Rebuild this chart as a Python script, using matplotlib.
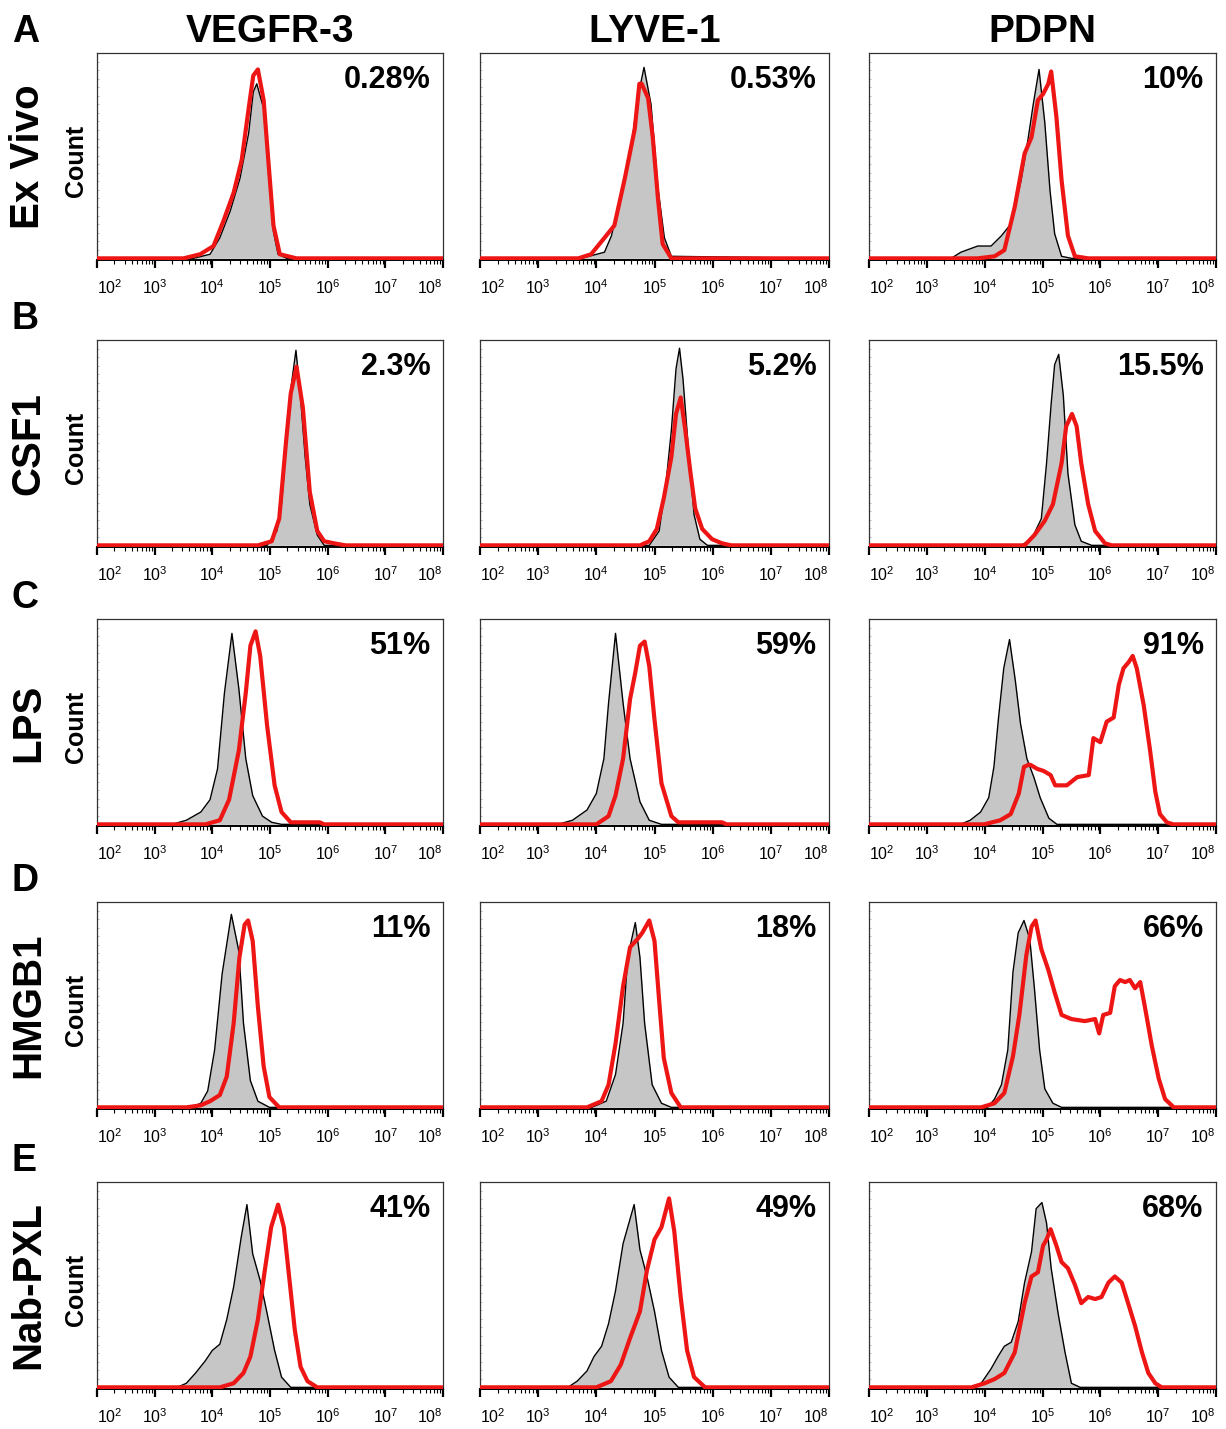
import numpy as np
import matplotlib
matplotlib.use("Agg")
import matplotlib.pyplot as plt
from matplotlib.ticker import LogLocator, NullFormatter, FixedLocator

plt.rcParams['font.family'] = ['Liberation Sans', 'DejaVu Sans']
plt.rcParams['mathtext.fontset'] = 'custom'
plt.rcParams['mathtext.rm'] = 'Liberation Sans'
plt.rcParams['mathtext.it'] = 'Liberation Sans'

markers = ['VEGFR-3', 'LYVE-1', 'PDPN']
conditions = ['Ex Vivo', 'CSF1', 'LPS', 'HMGB1', 'Nab-PXL']
letters = ['A', 'B', 'C', 'D', 'E']
percents = [['0.28%', '0.53%', '10%'],
            ['2.3%', '5.2%', '15.5%'],
            ['51%', '59%', '91%'],
            ['11%', '18%', '66%'],
            ['41%', '49%', '68%']]
decades = [2, 3, 4, 5, 6, 7, 8]

# histograms: log10(intensity), count as fraction of panel height
# gray = isotype control, red = stained
exvivo_vegfr3_gray = ([3.67, 3.96, 4.13, 4.31, 4.48, 4.63, 4.71, 4.77, 4.89, 4.97, 5.06, 5.14, 5.29],
                      [0, 0.02, 0.10, 0.23, 0.39, 0.61, 0.81, 0.85, 0.73, 0.45, 0.13, 0.02, 0])
exvivo_vegfr3_red = ([3.50, 3.79, 4.02, 4.19, 4.37, 4.51, 4.63, 4.71, 4.79, 4.89, 4.97, 5.06, 5.17, 5.46],
                     [0, 0.02, 0.06, 0.18, 0.32, 0.48, 0.73, 0.89, 0.92, 0.77, 0.48, 0.16, 0.02, 0])
exvivo_lyve1_gray = ([3.74, 4.14, 4.26, 4.49, 4.60, 4.71, 4.82, 4.94, 5.06, 5.17, 5.29],
                     [0, 0.03, 0.11, 0.39, 0.54, 0.78, 0.93, 0.75, 0.34, 0.10, 0.01])
exvivo_lyve1_red = ([3.69, 3.91, 4.14, 4.31, 4.49, 4.66, 4.74, 4.78, 4.89, 4.97, 5.06, 5.14, 5.29],
                    [0, 0.02, 0.10, 0.16, 0.39, 0.63, 0.85, 0.85, 0.78, 0.59, 0.29, 0.07, 0])
exvivo_pdpn_gray = ([3.42, 3.59, 3.88, 4.11, 4.29, 4.46, 4.63, 4.75, 4.84, 4.94, 5.04, 5.13, 5.21, 5.33, 5.50],
                    [0, 0.03, 0.06, 0.06, 0.11, 0.17, 0.38, 0.58, 0.75, 0.92, 0.66, 0.33, 0.12, 0.01, 0])
exvivo_pdpn_red = ([3.88, 4.17, 4.34, 4.52, 4.69, 4.81, 4.92, 5.01, 5.10, 5.15, 5.24, 5.33, 5.44, 5.56, 5.79],
                   [0, 0.01, 0.04, 0.25, 0.51, 0.59, 0.77, 0.80, 0.85, 0.91, 0.69, 0.38, 0.11, 0.01, 0])

csf1_vegfr3_gray = ([4.95, 5.12, 5.20, 5.28, 5.36, 5.45, 5.53, 5.61, 5.69, 5.82, 5.94],
                    [0, 0.07, 0.20, 0.48, 0.76, 0.95, 0.72, 0.43, 0.20, 0.05, 0])
csf1_vegfr3_red = ([4.79, 5.03, 5.16, 5.28, 5.36, 5.46, 5.57, 5.69, 5.82, 5.94, 6.11, 6.31],
                   [0, 0.02, 0.13, 0.51, 0.74, 0.87, 0.67, 0.26, 0.07, 0.02, 0.01, 0])
csf1_lyve1_gray = ([4.91, 5.08, 5.20, 5.29, 5.37, 5.43, 5.49, 5.58, 5.68, 5.78, 5.91],
                   [0, 0.07, 0.31, 0.56, 0.86, 0.96, 0.81, 0.48, 0.15, 0.03, 0])
csf1_lyve1_red = ([4.75, 4.91, 5.04, 5.16, 5.29, 5.37, 5.45, 5.53, 5.62, 5.70, 5.82, 5.99, 6.16, 6.32],
                  [0, 0.02, 0.08, 0.23, 0.43, 0.64, 0.72, 0.56, 0.35, 0.18, 0.08, 0.03, 0.01, 0])
csf1_pdpn_gray = ([4.63, 4.81, 4.98, 5.07, 5.15, 5.21, 5.28, 5.36, 5.44, 5.56, 5.67, 5.85],
                  [0, 0.03, 0.13, 0.40, 0.69, 0.88, 0.93, 0.73, 0.35, 0.10, 0.02, 0])
csf1_pdpn_red = ([4.69, 4.86, 5.04, 5.18, 5.33, 5.41, 5.51, 5.59, 5.67, 5.79, 5.91, 6.08, 6.20],
                 [0, 0.05, 0.12, 0.20, 0.40, 0.58, 0.64, 0.58, 0.40, 0.20, 0.07, 0.01, 0])

lps_vegfr3_gray = ([3.30, 3.55, 3.80, 3.96, 4.09, 4.21, 4.34, 4.46, 4.58, 4.70, 4.87, 5.03, 5.20],
                   [0, 0.02, 0.06, 0.12, 0.27, 0.64, 0.93, 0.66, 0.32, 0.14, 0.04, 0.01, 0])
lps_vegfr3_red = ([3.88, 4.13, 4.29, 4.46, 4.58, 4.66, 4.75, 4.83, 4.95, 5.08, 5.20, 5.36, 5.86, 5.94],
                  [0, 0.02, 0.12, 0.36, 0.64, 0.87, 0.94, 0.82, 0.48, 0.19, 0.06, 0.01, 0.01, 0])
lps_lyve1_gray = ([3.34, 3.59, 3.84, 4.00, 4.13, 4.21, 4.33, 4.46, 4.58, 4.75, 4.91, 5.12],
                  [0, 0.02, 0.07, 0.15, 0.32, 0.59, 0.93, 0.59, 0.32, 0.11, 0.02, 0])
lps_lyve1_red = ([4.00, 4.21, 4.33, 4.46, 4.58, 4.67, 4.75, 4.83, 4.91, 5.00, 5.12, 5.29, 5.41, 6.16, 6.24],
                 [0, 0.04, 0.14, 0.32, 0.61, 0.74, 0.87, 0.89, 0.77, 0.51, 0.20, 0.04, 0.01, 0.01, 0])
lps_pdpn_gray = ([3.58, 3.75, 3.93, 4.07, 4.16, 4.24, 4.33, 4.43, 4.53, 4.62, 4.73, 4.85, 4.96, 5.11, 5.25],
                 [0, 0.02, 0.06, 0.13, 0.28, 0.52, 0.76, 0.90, 0.70, 0.49, 0.32, 0.23, 0.13, 0.03, 0])
lps_pdpn_red = ([3.99, 4.27, 4.45, 4.59, 4.68, 4.76, 4.79, 4.91, 5.02, 5.14, 5.22, 5.42, 5.60, 5.80, 5.88,
                 6.00, 6.11, 6.23, 6.32, 6.40, 6.49, 6.56, 6.63, 6.75, 6.86, 6.95, 7.03, 7.15, 7.26],
                [0, 0.02, 0.05, 0.15, 0.28, 0.29, 0.29, 0.27, 0.26, 0.24, 0.19, 0.19, 0.23, 0.24, 0.42,
                 0.40, 0.50, 0.52, 0.68, 0.76, 0.79, 0.82, 0.76, 0.58, 0.36, 0.16, 0.05, 0.01, 0])

hmgb1_vegfr3_gray = ([3.63, 3.80, 3.92, 4.04, 4.17, 4.33, 4.46, 4.54, 4.66, 4.79, 4.99],
                     [0, 0.02, 0.08, 0.28, 0.65, 0.94, 0.76, 0.41, 0.13, 0.03, 0])
hmgb1_vegfr3_red = ([3.55, 3.80, 3.96, 4.13, 4.25, 4.37, 4.47, 4.56, 4.62, 4.70, 4.79, 4.89, 4.99, 5.16],
                    [0, 0.01, 0.03, 0.06, 0.15, 0.41, 0.73, 0.89, 0.91, 0.81, 0.49, 0.20, 0.05, 0])
hmgb1_lyve1_gray = ([3.92, 4.17, 4.33, 4.46, 4.54, 4.67, 4.75, 4.83, 4.96, 5.12, 5.29],
                    [0, 0.03, 0.16, 0.41, 0.73, 0.90, 0.73, 0.41, 0.11, 0.02, 0])
hmgb1_lyve1_red = ([3.84, 4.09, 4.21, 4.33, 4.46, 4.58, 4.71, 4.79, 4.91, 5.00, 5.08, 5.16, 5.29, 5.45],
                   [0, 0.03, 0.11, 0.31, 0.59, 0.78, 0.82, 0.85, 0.91, 0.81, 0.52, 0.24, 0.07, 0])
hmgb1_pdpn_gray = ([4.05, 4.17, 4.29, 4.40, 4.49, 4.58, 4.68, 4.78, 4.86, 4.95, 5.04, 5.18, 5.33],
                   [0, 0.04, 0.11, 0.28, 0.66, 0.85, 0.91, 0.82, 0.58, 0.28, 0.09, 0.02, 0])
hmgb1_pdpn_red = ([3.94, 4.17, 4.34, 4.49, 4.60, 4.72, 4.81, 4.88, 4.98, 5.10, 5.21, 5.33, 5.50, 5.73, 5.91,
                   5.98, 6.05, 6.17, 6.25, 6.34, 6.43, 6.51, 6.60, 6.69, 6.77, 6.89, 7.01, 7.12, 7.27],
                  [0, 0.02, 0.07, 0.25, 0.45, 0.74, 0.88, 0.91, 0.77, 0.67, 0.56, 0.45, 0.43, 0.42, 0.43,
                   0.36, 0.45, 0.46, 0.59, 0.62, 0.61, 0.62, 0.58, 0.61, 0.49, 0.30, 0.14, 0.04, 0])

nabpxl_vegfr3_gray = ([3.39, 3.55, 3.71, 3.88, 4.00, 4.13, 4.25, 4.37, 4.50, 4.60, 4.70, 4.83, 4.95, 5.08, 5.20, 5.36],
                      [0, 0.02, 0.07, 0.13, 0.18, 0.21, 0.33, 0.49, 0.73, 0.89, 0.65, 0.52, 0.36, 0.18, 0.05, 0])
nabpxl_vegfr3_red = ([4.13, 4.37, 4.54, 4.66, 4.79, 4.91, 5.02, 5.14, 5.24, 5.32, 5.43, 5.53, 5.65, 5.82],
                     [0, 0.02, 0.07, 0.15, 0.33, 0.57, 0.78, 0.89, 0.78, 0.57, 0.28, 0.10, 0.03, 0])
nabpxl_lyve1_gray = ([3.51, 3.67, 3.84, 3.96, 4.09, 4.21, 4.33, 4.46, 4.65, 4.75, 4.87, 5.00, 5.12, 5.25, 5.41],
                     [0, 0.03, 0.08, 0.15, 0.20, 0.31, 0.47, 0.70, 0.89, 0.67, 0.54, 0.37, 0.18, 0.05, 0])
nabpxl_lyve1_red = ([4.00, 4.25, 4.42, 4.58, 4.75, 4.87, 5.00, 5.12, 5.25, 5.34, 5.45, 5.56, 5.68, 5.87],
                    [0, 0.03, 0.11, 0.24, 0.37, 0.57, 0.72, 0.78, 0.92, 0.76, 0.44, 0.18, 0.05, 0])
nabpxl_pdpn_gray = ([3.77, 3.94, 4.11, 4.23, 4.34, 4.46, 4.58, 4.69, 4.81, 4.89, 4.99, 5.07, 5.15, 5.27, 5.39, 5.50, 5.65],
                    [0, 0.02, 0.09, 0.15, 0.20, 0.22, 0.32, 0.51, 0.66, 0.87, 0.90, 0.80, 0.58, 0.36, 0.17, 0.02, 0])
nabpxl_pdpn_red = ([3.77, 4.00, 4.17, 4.34, 4.52, 4.69, 4.81, 4.92, 5.01, 5.07, 5.14, 5.24, 5.33, 5.44, 5.56,
                    5.67, 5.79, 5.91, 6.02, 6.14, 6.25, 6.37, 6.48, 6.60, 6.72, 6.83, 6.95, 7.06],
                   [0, 0.02, 0.04, 0.07, 0.17, 0.41, 0.54, 0.56, 0.69, 0.72, 0.77, 0.69, 0.61, 0.58, 0.50,
                    0.41, 0.44, 0.43, 0.44, 0.51, 0.54, 0.51, 0.41, 0.30, 0.17, 0.07, 0.02, 0])

panels = [
    [(exvivo_vegfr3_gray, exvivo_vegfr3_red), (exvivo_lyve1_gray, exvivo_lyve1_red), (exvivo_pdpn_gray, exvivo_pdpn_red)],
    [(csf1_vegfr3_gray, csf1_vegfr3_red), (csf1_lyve1_gray, csf1_lyve1_red), (csf1_pdpn_gray, csf1_pdpn_red)],
    [(lps_vegfr3_gray, lps_vegfr3_red), (lps_lyve1_gray, lps_lyve1_red), (lps_pdpn_gray, lps_pdpn_red)],
    [(hmgb1_vegfr3_gray, hmgb1_vegfr3_red), (hmgb1_lyve1_gray, hmgb1_lyve1_red), (hmgb1_pdpn_gray, hmgb1_pdpn_red)],
    [(nabpxl_vegfr3_gray, nabpxl_vegfr3_red), (nabpxl_lyve1_gray, nabpxl_lyve1_red), (nabpxl_pdpn_gray, nabpxl_pdpn_red)],
]

W, H = 1226, 1429
fig = plt.figure(figsize=(W / 100, H / 100), dpi=100)

col_left = [97, 480, 869]
col_width = [346, 349, 347]
row_top = [53, 340, 619, 902, 1182]
row_h = 207
lo, hi = 10.0 ** decades[0], 10.0 ** decades[-1]


def full_curve(curve):
    # pad with the baseline so the line runs across the whole axis
    lx, y = curve
    x = np.concatenate([[decades[0]], lx, [decades[-1]]])
    y = np.concatenate([[0], y, [0]])
    return 10.0 ** x, y


for r in range(5):
    for c in range(3):
        ax = fig.add_axes([col_left[c] / W, 1 - (row_top[r] + row_h) / H,
                           col_width[c] / W, row_h / H])
        gray, red = panels[r][c]
        gx, gy = full_curve(gray)
        rx, ry = full_curve(red)
        ax.fill_between(gx, gy, 0, color='#c6c6c6', lw=0, zorder=1)
        ax.plot(gx, gy, color='black', lw=1.0, zorder=2, solid_joinstyle='round')
        ax.plot(rx, ry, color='#ee1515', lw=3.0, zorder=3, solid_joinstyle='round')

        ax.set_xscale('log')
        ax.set_xlim(lo, hi)
        ax.set_ylim(-0.008, 1.0)
        ax.xaxis.set_major_locator(FixedLocator([10.0 ** d for d in decades]))
        ax.xaxis.set_minor_locator(LogLocator(base=10, subs=np.arange(2, 10)))
        ax.xaxis.set_minor_formatter(NullFormatter())
        ax.set_xticklabels([r'$10^{%d}$' % d for d in decades], fontsize=11.5)
        ax.tick_params(axis='x', which='major', direction='out', length=5.5, width=1.6,
                       color='black', pad=8)
        ax.tick_params(axis='x', which='minor', direction='out', length=3, width=0.8,
                       color='black')
        labels = ax.get_xticklabels()
        labels[0].set_ha('left')
        labels[-1].set_ha('right')

        ax.set_yticks(np.linspace(0, 1, 25))
        ax.set_yticklabels([])
        ax.tick_params(axis='y', direction='in', length=1.5, width=0.4, color='#888888')

        for name, sp in ax.spines.items():
            sp.set_color('#333333')
            sp.set_linewidth(0.9)
        ax.spines['bottom'].set_color('black')
        ax.spines['bottom'].set_linewidth(1.4)

        ax.annotate(percents[r][c], xy=(1, 1), xycoords='axes fraction',
                    xytext=(-9, -25), textcoords='offset points',
                    ha='right', va='baseline', fontsize=22, fontweight='bold')

        if c == 0:
            ax.text(-0.06, 0.48, 'Count', transform=ax.transAxes, rotation=90,
                    ha='center', va='center', fontsize=18, fontweight='bold')

# column titles
for c, m in enumerate(markers):
    fig.text((col_left[c] + col_width[c] / 2) / W, 1 - 42 / H, m, ha='center',
             va='baseline', fontsize=28, fontweight='bold')

# row labels and panel letters
for r in range(5):
    fig.text(12 / W, 1 - (row_top[r] - 11) / H, letters[r], ha='left', va='baseline',
             fontsize=27, fontweight='bold')
    fig.text(28 / W, 1 - (row_top[r] + row_h / 2) / H, conditions[r], rotation=90,
             ha='center', va='center', fontsize=29, fontweight='bold')

fig.savefig('out.png', dpi=100)
